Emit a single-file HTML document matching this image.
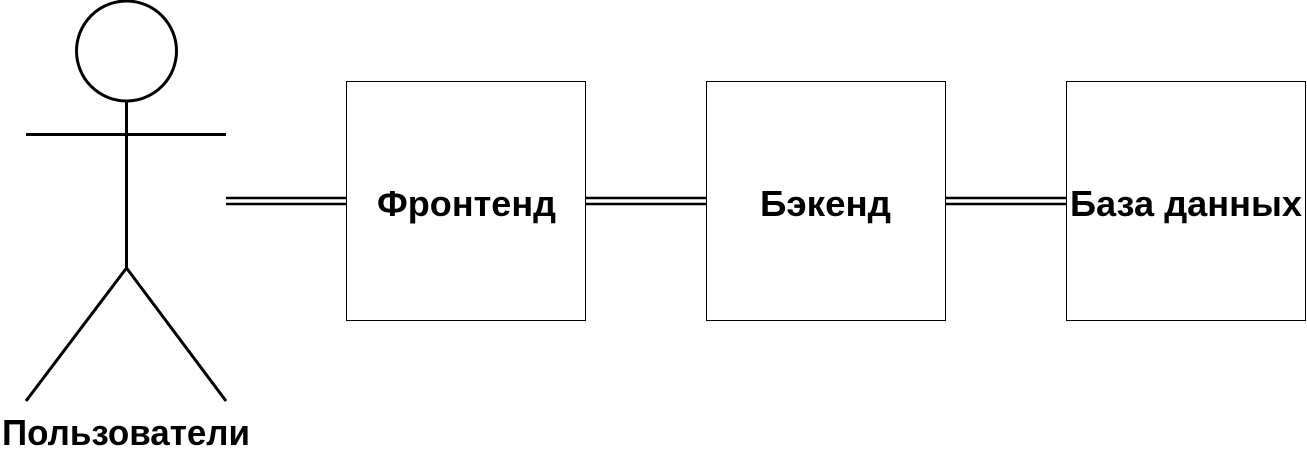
<!DOCTYPE html>
<html><head><meta charset="utf-8"><style>html,body{margin:0;padding:0;background:#fff}svg{display:block}text{font-family:"Liberation Sans",Arial,sans-serif;font-weight:bold;font-size:36px}</style></head>
<body>
<svg width="1307" height="452" viewBox="0 0 1307 452" xmlns="http://www.w3.org/2000/svg">
<g stroke="#000" stroke-width="3" fill="none">
<circle cx="126.5" cy="51" r="50"/>
<line x1="126.5" y1="101" x2="126.5" y2="268"/>
<line x1="26" y1="134.5" x2="226" y2="134.5"/>
<line x1="126.5" y1="268" x2="26" y2="401"/>
<line x1="126.5" y1="268" x2="226" y2="401"/>
</g>
<text x="126" y="445" text-anchor="middle" textLength="248" lengthAdjust="spacingAndGlyphs">Пользователи</text>
<g stroke="#000" stroke-width="2.5">
<line x1="226" y1="198" x2="346" y2="198"/><line x1="226" y1="204" x2="346" y2="204"/>
<line x1="586" y1="198" x2="706" y2="198"/><line x1="586" y1="204" x2="706" y2="204"/>
<line x1="946" y1="198" x2="1066" y2="198"/><line x1="946" y1="204" x2="1066" y2="204"/>
</g>
<g stroke="#000" stroke-width="1" fill="#fff">
<rect x="346.5" y="81.5" width="239" height="239"/>
<rect x="706.5" y="81.5" width="239" height="239"/>
<rect x="1066.5" y="81.5" width="239" height="239"/>
</g>
<text x="466.5" y="216" text-anchor="middle" textLength="179" lengthAdjust="spacingAndGlyphs">Фронтенд</text>
<text x="825.5" y="216" text-anchor="middle" textLength="131" lengthAdjust="spacingAndGlyphs">Бэкенд</text>
<text x="1186" y="216" text-anchor="middle" textLength="232" lengthAdjust="spacingAndGlyphs">База данных</text>
</svg>
</body></html>
